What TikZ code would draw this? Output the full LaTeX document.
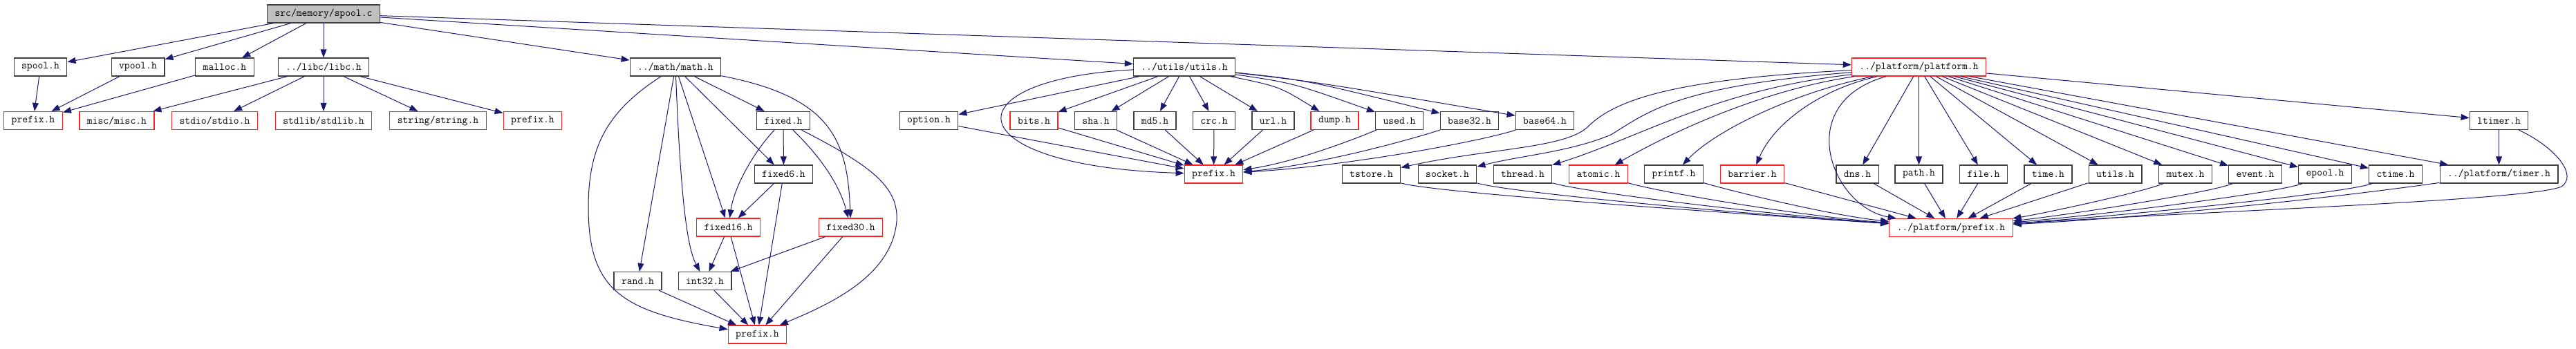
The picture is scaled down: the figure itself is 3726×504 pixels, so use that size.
\documentclass[tikz,border=0pt]{standalone}
\usepackage{fontspec}
\usepackage{xcolor}
\usepackage{tikz}
\usetikzlibrary{arrows.meta}

\definecolor{edgeblue}{HTML}{191970}
\definecolor{nodeline}{HTML}{404040}
\definecolor{nodered}{HTML}{FF2020}
\definecolor{rootgray}{HTML}{BFBFBF}
\newcommand{\hfont}{\fontsize{15.2}{18}\selectfont\ttfamily}

\begin{document}
\begin{tikzpicture}[
    x=1pt, y=-1pt,
    hdr/.style={draw=nodeline, fill=white, line width=1.2pt, inner xsep=11pt, inner ysep=0pt, minimum height=26pt, font=\hfont},
    trunc/.style={hdr, draw=nodered},
    root/.style={hdr, fill=rootgray},
    arr/.style={-{Triangle[length=12pt,width=9pt]}, draw=edgeblue, line width=1pt}
]
\useasboundingbox (0,0) rectangle (3726,504);

\node[root] (spoolc) at (468,20) {src/memory/spool.c};

\node[hdr] (spoolh) at (58.5,97) {spool.h};
\node[hdr] (vpoolh) at (199.5,97) {vpool.h};
\node[hdr] (malloch) at (325,97) {malloc.h};
\node[hdr] (libch) at (468,97) {../libc/libc.h};
\node[hdr] (mathh) at (977,97) {../math/math.h};
\node[hdr] (utilsh) at (1713,97) {../utils/utils.h};
\node[trunc] (platformh) at (2775.5,97) {../platform/platform.h};

\node[trunc] (prefixa) at (48,174.5) {prefix.h};
\node[trunc] (misch) at (169,174.5) {misc/misc.h};
\node[trunc] (stdioh) at (310.5,174.5) {stdio/stdio.h};
\node[trunc] (stdlibh) at (468,174.5) {stdlib/stdlib.h};
\node[trunc] (stringh) at (633.5,174.5) {string/string.h};
\node[trunc] (prefixb) at (770.5,174.5) {prefix.h};
\node[hdr] (fixedh) at (1133,174.5) {fixed.h};
\node[hdr] (optionh) at (1343.5,174.5) {option.h};
\node[trunc] (bitsh) at (1495.5,174.5) {bits.h};
\node[hdr] (shah) at (1585,174.5) {sha.h};
\node[hdr] (md5h) at (1670.5,174.5) {md5.h};
\node[hdr] (crch) at (1756,174.5) {crc.h};
\node[hdr] (urlh) at (1841.5,174.5) {url.h};
\node[trunc] (dumph) at (1930.5,174.5) {dump.h};
\node[hdr] (usedh) at (2024,174.5) {used.h};
\node[hdr] (base32h) at (2125.5,174.5) {base32.h};
\node[hdr] (base64h) at (2234.5,174.5) {base64.h};
\node[hdr] (ltimerh) at (3614.5,174.5) {ltimer.h};

\node[hdr] (fixed6h) at (1133.5,252) {fixed6.h};
\node[trunc] (prefixc) at (1755.5,252) {prefix.h};
\node[hdr] (tstoreh) at (1983.5,252) {tstore.h};
\node[hdr] (socketh) at (2093.5,252) {socket.h};
\node[hdr] (threadh) at (2202.5,252) {thread.h};
\node[trunc] (atomich) at (2312,252) {atomic.h};
\node[hdr] (printfh) at (2421,252) {printf.h};
\node[trunc] (barrierh) at (2534.5,252) {barrier.h};
\node[hdr] (dnsh) at (2686.5,252) {dns.h};
\node[hdr] (pathh) at (2775.5,252) {path.h};
\node[hdr] (fileh) at (2869,252) {file.h};
\node[hdr] (timeh) at (2962.5,252) {time.h};
\node[hdr] (putilsh) at (3059.5,252) {utils.h};
\node[hdr] (mutexh) at (3161,252) {mutex.h};
\node[hdr] (eventh) at (3262,252) {event.h};
\node[hdr] (epoolh) at (3363,252) {epool.h};
\node[hdr] (ctimeh) at (3465,252) {ctime.h};
\node[hdr] (ptimerh) at (3614.5,252) {../platform/timer.h};

\node[trunc] (fixed16h) at (1053.5,329) {fixed16.h};
\node[trunc] (fixed30h) at (1230.5,329) {fixed30.h};
\node[trunc] (pprefixh) at (2822,329.5) {../platform/prefix.h};

\node[hdr] (randh) at (922.5,406.5) {rand.h};
\node[hdr] (int32h) at (1019.5,406.5) {int32.h};

\node[trunc] (prefixd) at (1095.5,484) {prefix.h};

\draw[arr] (spoolc) -- (spoolh);
\draw[arr] (spoolc) -- (vpoolh);
\draw[arr] (spoolc) -- (malloch);
\draw[arr] (spoolc) -- (libch);
\draw[arr] (spoolc) -- (mathh);
\draw[arr] (spoolc) -- (utilsh);
\draw[arr] (spoolc) -- (platformh);

\draw[arr] (spoolh) -- (prefixa);
\draw[arr] (vpoolh) -- (prefixa);
\draw[arr] (malloch) -- (prefixa);
\draw[arr] (libch) -- (misch);
\draw[arr] (libch) -- (stdioh);
\draw[arr] (libch) -- (stdlibh);
\draw[arr] (libch) -- (stringh);
\draw[arr] (libch) -- (prefixb);

\draw[arr] (mathh) .. controls (880,160) and (851,210) .. (851,300) .. controls (851,420) and (900,450) .. (prefixd);
\draw[arr] (mathh) -- (randh);
\draw[arr] (mathh) .. controls (985,300) and (995,360) .. (int32h);
\draw[arr] (mathh) -- (fixed16h);
\draw[arr] (mathh) -- (fixed6h);
\draw[arr] (mathh) -- (fixedh);
\draw[arr] (mathh) .. controls (1200,140) and (1226,200) .. (fixed30h);
\draw[arr] (fixedh) -- (fixed6h);
\draw[arr] (fixedh) .. controls (1090,220) and (1062,270) .. (fixed16h);
\draw[arr] (fixedh) .. controls (1190,230) and (1215,270) .. (fixed30h);
\draw[arr] (fixedh) .. controls (1260,240) and (1300,270) .. (1297,320) .. controls (1290,400) and (1200,440) .. (prefixd);
\draw[arr] (fixed6h) -- (fixed16h);
\draw[arr] (fixed6h) -- (prefixd);
\draw[arr] (fixed16h) -- (int32h);
\draw[arr] (fixed16h) -- (prefixd);
\draw[arr] (fixed30h) -- (int32h);
\draw[arr] (fixed30h) -- (prefixd);
\draw[arr] (randh) -- (prefixd);
\draw[arr] (int32h) -- (prefixd);

\draw[arr] (utilsh) -- (optionh);
\draw[arr] (utilsh) .. controls (1370,115) and (1380,240) .. (prefixc);
\draw[arr] (utilsh) -- (bitsh);
\draw[arr] (utilsh) -- (shah);
\draw[arr] (utilsh) -- (md5h);
\draw[arr] (utilsh) -- (crch);
\draw[arr] (utilsh) -- (urlh);
\draw[arr] (utilsh) .. controls (1850,125) .. (dumph);
\draw[arr] (utilsh) .. controls (1870,120) .. (usedh);
\draw[arr] (utilsh) .. controls (1890,116) .. (base32h);
\draw[arr] (utilsh) .. controls (1900,118) .. (base64h);
\draw[arr] (optionh) -- (prefixc);
\draw[arr] (bitsh) -- (prefixc);
\draw[arr] (shah) -- (prefixc);
\draw[arr] (md5h) -- (prefixc);
\draw[arr] (crch) -- (prefixc);
\draw[arr] (urlh) -- (prefixc);
\draw[arr] (dumph) -- (prefixc);
\draw[arr] (usedh) .. controls (1950,205) and (1870,235) .. (prefixc);
\draw[arr] (base32h) .. controls (2030,205) and (1900,240) .. (prefixc);
\draw[arr] (base64h) .. controls (2140,205) and (1950,240) .. (prefixc);

\draw[arr] (platformh) .. controls (2400,115) and (2330,150) .. (2295,185) .. controls (2260,215) and (2150,215) .. (tstoreh);
\draw[arr] (platformh) .. controls (2420,125) and (2380,165) .. (2330,195) .. controls (2270,220) and (2200,225) .. (socketh);
\draw[arr] (platformh) .. controls (2480,130) and (2370,200) .. (threadh);
\draw[arr] (platformh) .. controls (2550,130) and (2420,190) .. (atomich);
\draw[arr] (platformh) .. controls (2590,135) and (2480,190) .. (printfh);
\draw[arr] (platformh) .. controls (2630,130) and (2565,180) .. (barrierh);
\draw[arr] (platformh) .. controls (2590,150) and (2650,300) .. (pprefixh);
\draw[arr] (platformh) -- (dnsh);
\draw[arr] (platformh) -- (pathh);
\draw[arr] (platformh) -- (fileh);
\draw[arr] (platformh) -- (timeh);
\draw[arr] (platformh) -- (putilsh);
\draw[arr] (platformh) -- (mutexh);
\draw[arr] (platformh) -- (eventh);
\draw[arr] (platformh) -- (epoolh);
\draw[arr] (platformh) -- (ctimeh);
\draw[arr] (platformh) -- (ptimerh);
\draw[arr] (platformh) -- (ltimerh);
\draw[arr] (tstoreh) .. controls (2070,278) and (2450,305) .. (pprefixh);
\draw[arr] (socketh) .. controls (2180,278) and (2500,308) .. (pprefixh);
\draw[arr] (threadh) .. controls (2290,278) and (2550,310) .. (pprefixh);
\draw[arr] (atomich) .. controls (2400,278) and (2600,312) .. (pprefixh);
\draw[arr] (printfh) .. controls (2510,278) and (2650,312) .. (pprefixh);
\draw[arr] (barrierh) -- (pprefixh);
\draw[arr] (dnsh) -- (pprefixh);
\draw[arr] (pathh) -- (pprefixh);
\draw[arr] (fileh) -- (pprefixh);
\draw[arr] (timeh) -- (pprefixh);
\draw[arr] (putilsh) -- (pprefixh);
\draw[arr] (mutexh) .. controls (3100,278) and (2950,310) .. (pprefixh);
\draw[arr] (eventh) .. controls (3200,278) and (3000,310) .. (pprefixh);
\draw[arr] (epoolh) .. controls (3300,278) and (3050,310) .. (pprefixh);
\draw[arr] (ctimeh) .. controls (3400,278) and (3100,310) .. (pprefixh);
\draw[arr] (ptimerh) .. controls (3420,280) and (3150,312) .. (pprefixh);
\draw[arr] (ltimerh) -- (ptimerh);
\draw[arr] (ltimerh) .. controls (3700,215) and (3728,255) .. (3705,270) .. controls (3660,290) and (3200,305) .. (pprefixh);
\end{tikzpicture}
\end{document}
